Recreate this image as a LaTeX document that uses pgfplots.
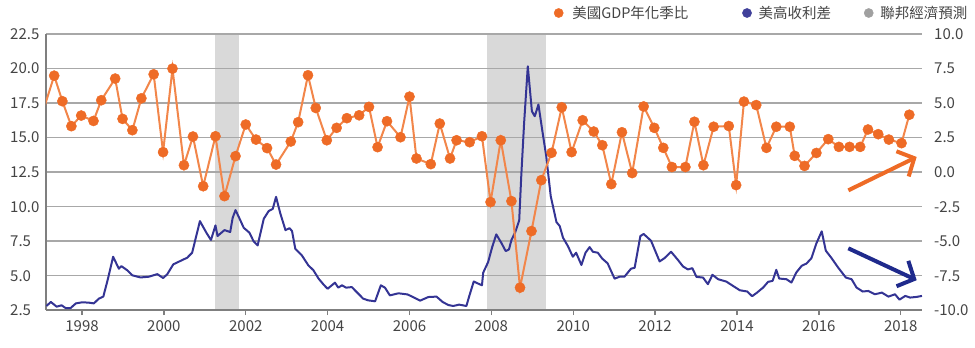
\documentclass[border=0pt]{standalone}
\usepackage{pgfplots}
\usepackage{pgfplotstable}
\pgfplotsset{compat=1.18}
\usepackage{fontspec}
\setmainfont{Noto Sans CJK TC}
\usetikzlibrary{arrows.meta}
\definecolor{orng}{HTML}{EE6B26}
\definecolor{orngl}{HTML}{F2864A}
\definecolor{navy}{HTML}{343494}
\definecolor{navyd}{HTML}{1F2A8C}
\definecolor{recg}{HTML}{D9D9D9}
\definecolor{gridc}{HTML}{A8A8A8}
\definecolor{axc}{HTML}{7F7F7F}
\definecolor{txt}{HTML}{444444}
\definecolor{legg}{HTML}{A0A0A0}
\definecolor{legn}{HTML}{40409A}
\pgfplotstableread{
x y
1996.90 3.00
1997.32 6.98
1997.52 5.13
1997.74 3.32
1997.98 4.09
1998.28 3.70
1998.47 5.20
1998.81 6.77
1998.99 3.85
1999.23 3.03
1999.45 5.34
1999.75 7.08
1999.98 1.44
2000.21 7.49
2000.49 0.49
2000.71 2.57
2000.96 -1.03
2001.26 2.59
2001.48 -1.75
2001.75 1.15
2002.00 3.44
2002.25 2.35
2002.52 1.73
2002.74 0.54
2003.10 2.21
2003.28 3.61
2003.52 7.01
2003.71 4.64
2003.98 2.30
2004.22 3.20
2004.47 3.90
2004.77 4.11
2005.01 4.72
2005.22 1.80
2005.45 3.68
2005.78 2.52
2006.00 5.46
2006.17 0.98
2006.52 0.57
2006.74 3.51
2006.99 0.98
2007.15 2.30
2007.47 2.16
2007.77 2.59
2007.98 -2.18
2008.23 2.30
2008.49 -2.11
2008.70 -8.38
2008.98 -4.28
2009.22 -0.59
2009.47 1.39
2009.72 4.69
2009.96 1.44
2010.23 3.75
2010.50 2.93
2010.71 1.94
2010.93 -0.88
2011.19 2.88
2011.44 -0.08
2011.72 4.75
2011.98 3.20
2012.20 1.75
2012.41 0.36
2012.74 0.36
2012.96 3.64
2013.18 0.49
2013.43 3.28
2013.80 3.33
2013.98 -0.95
2014.17 5.10
2014.47 4.85
2014.72 1.75
2014.96 3.28
2015.29 3.28
2015.41 1.17
2015.65 0.44
2015.94 1.38
2016.23 2.38
2016.49 1.82
2016.75 1.82
2017.01 1.82
2017.20 3.08
2017.45 2.74
2017.71 2.35
2018.02 2.09
2018.21 4.15
}\gdp
\begin{document}
\begin{tikzpicture}
\pgfplotsset{
 base/.style={width=876bp,height=276bp,scale only axis,xmin=1997.12,xmax=2018.52,
  font=\fontsize{15bp}{17bp}\selectfont, tick label style={text=txt}},
}
\begin{axis}[base, set layers=standard, ymin=2.5, ymax=22.5,
 axis x line*=bottom, axis y line*=left,
 axis line style={axc, line width=1.6bp},
 xtick={1998,2000,2002,2004,2006,2008,2010,2012,2014,2016,2018},
 xticklabels={1998,2000,2002,2004,2006,2008,2010,2012,2014,2016,2018},
 x tick style={axc, line width=1.4bp}, major tick length=5bp, tick align=outside,
 xticklabel style={anchor=north, inner sep=0pt, text height=11bp, text depth=0pt, yshift=-5bp},
 ytick={2.5,5,7.5,10,12.5,15,17.5,20,22.5},
 yticklabels={2.5,5.0,7.5,10.0,12.5,15.0,17.5,20.0,22.5},
 y tick style={draw=none},
 yticklabel style={anchor=west, inner sep=0pt, text height=11bp, text depth=0pt, xshift=-31bp},
 ymajorgrids, grid style={gridc, line width=1.2bp},
]
\addplot[draw=none, fill=recg, on layer=axis background] coordinates {(2001.25,22.5) (2001.83,22.5)} \closedcycle;
\addplot[draw=none, fill=recg, on layer=axis background] coordinates {(2007.90,22.5) (2009.34,22.5)} \closedcycle;
\addplot[navy, line width=2bp, line join=round] coordinates {
(1997.13,2.79) (1997.24,3.08) (1997.38,2.74) (1997.50,2.84) (1997.60,2.64) (1997.72,2.64)
(1997.85,2.98) (1998.01,3.06) (1998.17,3.03) (1998.29,2.98) (1998.41,3.32) (1998.52,3.47)
(1998.63,4.72) (1998.76,6.36) (1998.90,5.49) (1998.96,5.68) (1999.10,5.39) (1999.23,5.01)
(1999.43,4.86) (1999.63,4.91) (1999.84,5.10) (1999.98,4.82) (2000.08,5.08) (2000.23,5.81)
(2000.40,6.05) (2000.57,6.29) (2000.69,6.65) (2000.88,8.94) (2001.04,8.09) (2001.15,7.57)
(2001.26,8.63) (2001.31,7.86) (2001.48,8.29) (2001.62,8.15) (2001.68,9.18) (2001.75,9.74)
(2001.85,9.11) (2001.95,8.46) (2002.09,8.10) (2002.19,7.49) (2002.29,7.18) (2002.44,9.11)
(2002.56,9.67) (2002.66,9.83) (2002.74,10.70) (2002.84,9.54) (2002.97,8.29) (2003.07,8.43)
(2003.13,8.22) (2003.21,6.94) (2003.37,6.46) (2003.53,5.73) (2003.65,5.39) (2003.78,4.77)
(2003.91,4.31) (2004.00,4.04) (2004.18,4.48) (2004.26,4.12) (2004.35,4.29) (2004.45,4.12)
(2004.59,4.16) (2004.71,3.80) (2004.87,3.32) (2004.99,3.20) (2005.16,3.13) (2005.30,4.29)
(2005.40,4.12) (2005.52,3.56) (2005.73,3.71) (2005.95,3.63) (2006.12,3.39) (2006.26,3.18)
(2006.46,3.44) (2006.66,3.47) (2006.81,3.08) (2006.95,2.86) (2007.07,2.79) (2007.21,2.89)
(2007.39,2.79) (2007.46,3.51) (2007.57,4.57) (2007.68,4.41) (2007.77,4.29) (2007.80,5.20)
(2007.92,5.97) (2008.02,7.06) (2008.12,7.98) (2008.25,7.33) (2008.35,6.77) (2008.43,6.89)
(2008.49,7.57) (2008.59,8.19) (2008.68,8.99) (2008.73,12.20) (2008.80,16.06) (2008.89,20.16)
(2008.99,16.90) (2009.06,16.54) (2009.15,17.39) (2009.24,15.58) (2009.34,13.65) (2009.45,10.75)
(2009.59,8.87) (2009.67,8.58) (2009.75,7.74) (2009.87,7.13) (2009.99,6.36) (2010.07,6.65)
(2010.20,5.76) (2010.30,6.65) (2010.40,7.06) (2010.48,6.72) (2010.60,6.65) (2010.71,6.22)
(2010.84,5.88) (2011.01,4.77) (2011.13,4.91) (2011.25,4.91) (2011.41,5.49) (2011.50,5.56)
(2011.64,7.86) (2011.72,8.01) (2011.90,7.52) (2012.11,6.02) (2012.23,6.26) (2012.39,6.72)
(2012.56,6.12) (2012.68,5.66) (2012.80,5.44) (2012.91,5.53) (2013.01,4.90) (2013.17,4.85)
(2013.29,4.37) (2013.40,5.05) (2013.54,4.73) (2013.74,4.56) (2013.90,4.25) (2014.07,3.93)
(2014.25,3.84) (2014.37,3.50) (2014.49,3.76) (2014.64,4.13) (2014.76,4.54) (2014.87,4.61)
(2014.96,5.41) (2015.03,4.78) (2015.21,4.73) (2015.33,4.49) (2015.45,5.22) (2015.58,5.70)
(2015.70,5.87) (2015.82,6.26) (2015.94,7.33) (2016.07,8.20) (2016.17,6.80) (2016.31,6.26)
(2016.47,5.58) (2016.66,4.85) (2016.80,4.73) (2016.92,4.13) (2017.07,3.84) (2017.21,3.88)
(2017.37,3.64) (2017.54,3.76) (2017.70,3.47) (2017.86,3.64) (2017.97,3.25) (2018.11,3.52)
(2018.23,3.40) (2018.39,3.45) (2018.52,3.52)
};
\end{axis}
\begin{axis}[base, ymin=-10, ymax=10,
 axis y line*=right, axis x line=none,
 y axis line style={draw=none},
 ytick={-10,-7.5,-5,-2.5,0,2.5,5,7.5,10},
 yticklabels={-10.0,-7.5,-5.0,-2.5,0.0,2.5,5.0,7.5,10.0},
 y tick style={draw=none},
 yticklabel style={anchor=west, inner sep=0pt, text height=11bp, text depth=0pt, xshift=12bp},
 legend columns=3,
 legend image code/.code={\draw[#1] plot coordinates {(0bp,0bp)};},
 legend style={draw=none, fill=none, inner sep=0pt, outer sep=0pt,
   at={(axis description cs:0.580,1)}, anchor=west, yshift=21bp,
   nodes={inner sep=0pt, font=\fontsize{14.5bp}{16bp}\selectfont, text=txt},
   /tikz/column 1/.style={column sep=9bp},
   /tikz/column 2/.style={column sep=54bp},
   /tikz/column 3/.style={column sep=7bp},
   /tikz/column 4/.style={column sep=33bp},
   /tikz/column 5/.style={column sep=7bp}},
]
\addlegendimage{only marks, mark=*, mark size=4.6bp, mark options={draw=orng, fill=orng, line width=0.4bp}}
\addlegendentry{美國GDP年化季比}
\addlegendimage{only marks, mark=*, mark size=4.6bp, mark options={draw=legn, fill=legn, line width=0.4bp}}
\addlegendentry{美高收利差}
\addlegendimage{only marks, mark=*, mark size=4.6bp, mark options={draw=legg, fill=legg, line width=0.4bp}}
\addlegendentry{聯邦經濟預測}
\addplot[orngl, line width=2bp, no marks, forget plot] table[x=x, y=y] {\gdp};
\addplot[only marks, mark=*, mark size=5.1bp, mark options={draw=orng, fill=orng, line width=0.4bp}, forget plot] table[x=x, y=y] {\gdp};
\draw[orng, line width=4bp, -{Straight Barb[length=13bp,width=28bp]}] (axis cs:2016.72,-1.33) -- (axis cs:2018.39,1.09);
\draw[navyd, line width=4bp, -{Straight Barb[length=13bp,width=28bp]}] (axis cs:2016.72,-5.53) -- (axis cs:2018.39,-7.84);
\end{axis}
\pgfresetboundingbox
\path[use as bounding box] (-46bp,-38bp) rectangle (929bp,310bp);
\end{tikzpicture}
\end{document}
